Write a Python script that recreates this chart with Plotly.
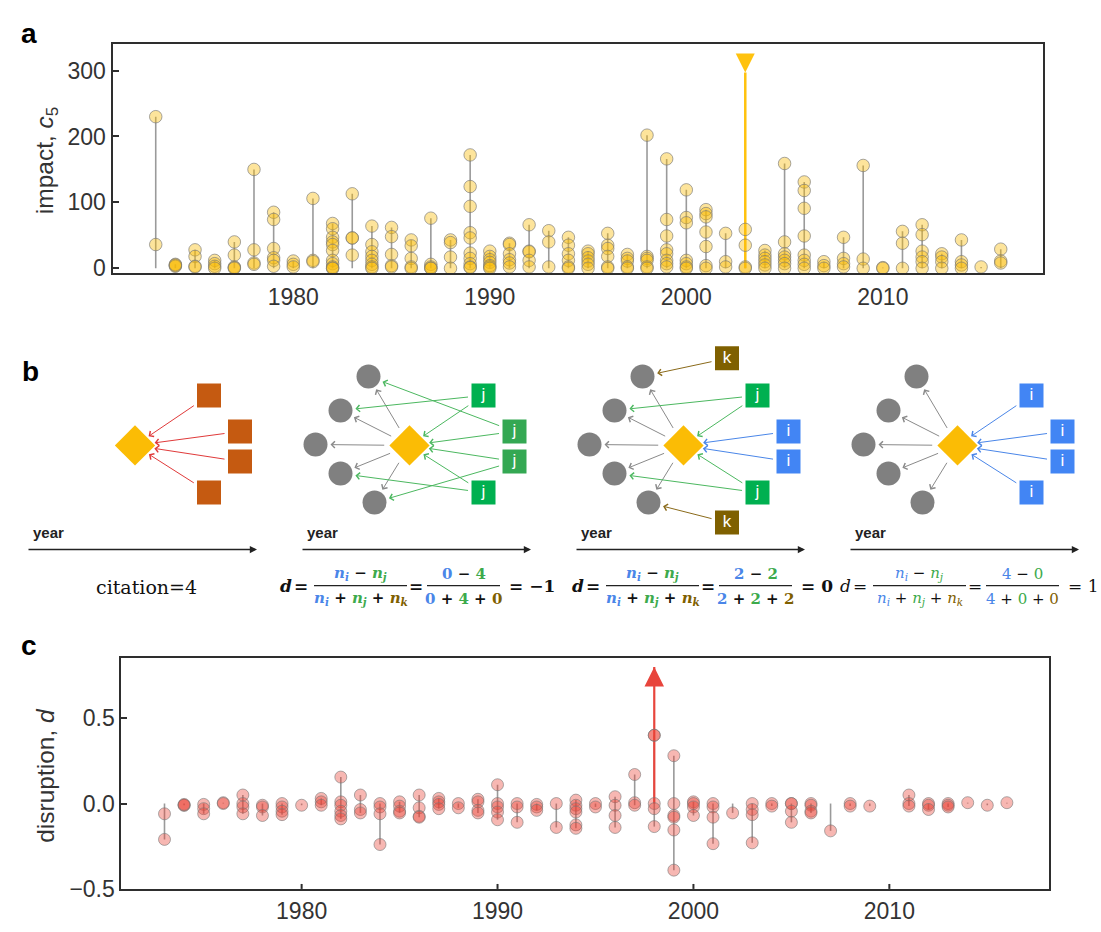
import math
import plotly.graph_objects as go

W, H = 1101, 932

# ---------------------------------------------------------------- data
years = list(range(1973, 2017))

# impact c5 of an author's papers, one list per publication year (1973 ... 2016)
impact = [
    [230, 36], [6, 4, 3, 5], [28, 18, 3, 2], [12, 7, 3, 0], [40, 20, 2, 1, 0],
    [150, 28, 8, 6], [85, 74, 30, 16, 12, 3], [11, 6, 2], [106, 12, 10],
    [68, 60, 47, 40, 36, 27, 12, 7, 2, 0, 0], [113, 46, 46, 20],
    [64, 36, 25, 18, 12, 6, 2, 0], [62, 48, 21, 4, 2], [43, 34, 15, 2, 0],
    [76, 6, 2, 0, 0], [43, 39, 17, 0], [172, 124, 94, 54, 46, 23, 15, 7, 2, 1],
    [26, 18, 13, 9, 4, 2, 0], [38, 36, 22, 13, 8, 2], [66, 26, 25, 12, 2],
    [57, 40, 2], [47, 35, 22, 12, 2, 0], [26, 22, 16, 11, 6, 0],
    [53, 35, 30, 18, 2, 0], [21, 15, 11, 2, 0], [202, 18, 15, 12, 2, 0],
    [166, 74, 49, 28, 22, 12, 7, 2], [119, 77, 69, 12, 7, 2, 0],
    [89, 83, 78, 55, 33, 4, 0], [53, 10, 2], [59, 35, 2, 0],
    [27, 20, 15, 10, 5, 0], [159, 40, 22, 17, 12, 7, 0],
    [131, 118, 91, 49, 20, 12, 6, 0], [10, 4, 0], [47, 15, 7, 2], [156, 14, 0],
    [1, 0], [56, 38, 0], [66, 51, 26, 17, 10, 0], [22, 17, 10, 0],
    [43, 10, 5, 0], [2], [29, 11, 8],
]

# disruption d of the same papers, one list per publication year
disruption = [
    [-0.06, -0.21], [-0.01, -0.01, -0.005], [-0.005, -0.03, -0.06], [0.005, 0.0],
    [0.05, 0.0, -0.02, -0.06], [-0.01, -0.02, -0.07], [0.0, -0.02, -0.045, -0.065],
    [-0.01], [0.03, 0.01, -0.01], [0.155, 0.01, -0.01, -0.045, -0.07, -0.09],
    [0.05, -0.035, -0.055], [0.0, -0.02, -0.06, -0.24], [0.01, -0.015, -0.045, -0.055],
    [0.05, -0.025, -0.075, -0.08], [0.03, 0.01, -0.005, -0.03], [0.0, -0.025],
    [0.025, 0.01, -0.04, -0.055], [0.11, 0.0, -0.02, -0.05, -0.095], [0.0, -0.02, -0.11],
    [-0.005, -0.02, -0.04], [0.0, -0.14], [0.02, -0.01, -0.03, -0.05, -0.125, -0.145],
    [0.0, -0.02], [0.04, -0.01, -0.07, -0.14], [0.17, 0.005, -0.01],
    [0.40, 0.40, 0.0, -0.03, -0.135], [0.28, 0.0, -0.07, -0.08, -0.155, -0.39],
    [0.01, 0.0, -0.02, -0.07], [0.0, -0.02, -0.08, -0.235], [-0.055],
    [0.0, -0.035, -0.065, -0.23], [0.0, -0.015], [0.0, 0.0, -0.045, -0.11],
    [0.0, -0.01, -0.045, -0.055], [-0.16], [0.0, -0.015], [-0.015], [],
    [0.05, 0.0, -0.015], [0.0, -0.01, -0.035], [0.0, -0.01, -0.02], [0.005],
    [-0.01], [0.005],
]

focal_year_a, focal_impact = 2003, 297
focal_year_c, focal_disruption = 1998, 0.80

year_ticks = [1980, 1990, 2000, 2010]
impact_ticks = [0, 100, 200, 300]
disruption_ticks = [-0.5, 0.0, 0.5]
disruption_ticktext = ["\u22120.5", "0.0", "0.5"]

# schematic counts (n_i, n_j, n_k, result) for the three disruption examples
formula_counts = [(0, 4, 0, "\u22121"), (2, 2, 2, "0"), (4, 0, 0, "1")]
citation_text = "citation=4"

# ---------------------------------------------------------------- styles
FONT = "Liberation Sans, Arial, sans-serif"
SERIF = "DejaVu Serif, serif"
AX_COL = "#2e2e2e"
TXT_COL = "#333333"
YEL = "#FBBC05"
BLUE = "#4285F4"
GREEN = "#00B050"
OLIVE = "#7F6000"
ORANGE = "#C55A11"
GREY = "#808080"
F_BLUE = "#4A86E8"
F_GREEN = "#3DAA4C"

YS = 1.0152  # vertical layout scale


def Y(py):
    return py * YS


def flatten(vals):
    xs, ys = [], []
    for yr, v in zip(years, vals):
        for val in v:
            xs.append(yr)
            ys.append(val)
    return xs, ys


def stems(vals):
    xs, ys = [], []
    for yr, v in zip(years, vals):
        if not v:
            continue
        xs += [yr, yr, None]
        ys += [min(0, min(v)), max(0, max(v)), None]
    return xs, ys


fig = go.Figure()

# ---------------------------------------------------------------- panel a
sx, sy = stems(impact)
fig.add_trace(go.Scatter(x=sx, y=sy, mode="lines", xaxis="x", yaxis="y",
                         line=dict(color="#9a9a9a", width=1.6), hoverinfo="skip"))
fig.add_trace(go.Scatter(x=[focal_year_a, focal_year_a], y=[0, focal_impact],
                         mode="lines", xaxis="x", yaxis="y",
                         line=dict(color="#FFC20E", width=2.5), hoverinfo="skip"))
px_, py_ = flatten(impact)
fig.add_trace(go.Scatter(x=px_, y=py_, mode="markers", xaxis="x", yaxis="y",
                         marker=dict(size=12.5, color="rgba(251,188,5,0.40)",
                                     line=dict(color="rgba(120,120,120,0.65)", width=1)),
                         cliponaxis=False))
fig.add_trace(go.Scatter(x=[focal_year_a], y=[focal_impact], mode="markers",
                         xaxis="x", yaxis="y",
                         marker=dict(symbol="arrow-down", size=19, color="#FFC20E",
                                     line=dict(width=0))))

# ---------------------------------------------------------------- panel c
sx, sy = stems(disruption)
fig.add_trace(go.Scatter(x=sx, y=sy, mode="lines", xaxis="x2", yaxis="y2",
                         line=dict(color="#9a9a9a", width=1.6), hoverinfo="skip"))
fig.add_trace(go.Scatter(x=[focal_year_c, focal_year_c], y=[0, focal_disruption],
                         mode="lines", xaxis="x2", yaxis="y2",
                         line=dict(color="#E8453C", width=2.2), hoverinfo="skip"))
px_, py_ = flatten(disruption)
fig.add_trace(go.Scatter(x=px_, y=py_, mode="markers", xaxis="x2", yaxis="y2",
                         marker=dict(size=12, color="rgba(234,67,53,0.38)",
                                     line=dict(color="rgba(120,120,120,0.6)", width=1)),
                         cliponaxis=False))
fig.add_trace(go.Scatter(x=[focal_year_c], y=[focal_disruption], mode="markers",
                         xaxis="x2", yaxis="y2",
                         marker=dict(symbol="arrow-up", size=19.5, color="#E8453C",
                                     line=dict(width=0))))

# ---------------------------------------------------------------- panel b (schematic)
panel_cx = [135, 409.5, 683.5, 957.5]
node_cy = 445
circle_off = [(-41, -69), (-69, -35), (-94, -1), (-69, 28), (-35, 57)]
slot_off = [(74, -50), (105, -14), (105, 16), (74, 47), (43.5, -87), (43.5, 77)]
CIRC_R, SQ_H, DIA_H = 12, 12, 20

subpanels = [
    dict(circles=False, slots={0: ("", ORANGE, "#E03A3A", ["D"]),
                               1: ("", ORANGE, "#E03A3A", ["D"]),
                               2: ("", ORANGE, "#E03A3A", ["D"]),
                               3: ("", ORANGE, "#E03A3A", ["D"])}),
    dict(circles=True, slots={0: ("j", GREEN, "#4CB860", ["D", 1]),
                              1: ("j", "#34A853", "#4CB860", ["D", 0]),
                              2: ("j", "#34A853", "#4CB860", ["D", 4]),
                              3: ("j", GREEN, "#4CB860", ["D", 3])}),
    dict(circles=True, slots={0: ("j", GREEN, "#4CB860", ["D", 1]),
                              1: ("i", BLUE, "#4A86E8", ["D"]),
                              2: ("i", BLUE, "#4A86E8", ["D"]),
                              3: ("j", GREEN, "#4CB860", ["D", 3]),
                              4: ("k", OLIVE, "#8A6A1A", [0]),
                              5: ("k", OLIVE, "#8A6A1A", [4])}),
    dict(circles=True, slots={0: ("i", BLUE, "#4A86E8", ["D"]),
                              1: ("i", BLUE, "#4A86E8", ["D"]),
                              2: ("i", BLUE, "#4A86E8", ["D"]),
                              3: ("i", BLUE, "#4A86E8", ["D"])}),
]


def radius(kind, ux, uy):
    ax_, ay_ = abs(ux), abs(uy)
    if kind == "circle":
        return CIRC_R
    if kind == "square":
        return SQ_H / max(ax_, ay_)
    return DIA_H / (ax_ + ay_)


annotations = []
shapes = []


def arrow(p0, k0, p1, k1, color, g0=2, g1=3, width=1.0):
    dx, dy = p1[0] - p0[0], p1[1] - p0[1]
    L = math.hypot(dx, dy)
    ux, uy = dx / L, dy / L
    r0 = radius(k0, ux, uy) + g0
    r1 = radius(k1, ux, uy) + g1
    annotations.append(dict(
        x=p1[0] - ux * r1, y=p1[1] - uy * r1,
        ax=p0[0] + ux * r0, ay=p0[1] + uy * r0,
        xref="x3", yref="y3", axref="x3", ayref="y3",
        text="", showarrow=True, arrowhead=4, arrowsize=1.3,
        arrowwidth=width, arrowcolor=color))


circ_x, circ_y = [], []
sq_x, sq_y, sq_c, sq_t = [], [], [], []
dia_x, dia_y = [], []
for cx, sp in zip(panel_cx, subpanels):
    D = (cx, node_cy)
    dia_x.append(cx)
    dia_y.append(node_cy)
    circles = [(cx + ox, node_cy + oy) for ox, oy in circle_off]
    if sp["circles"]:
        for c in circles:
            circ_x.append(c[0])
            circ_y.append(c[1])
            arrow(D, "diamond", c, "circle", "#8a8a8a", g0=4, g1=3)
    for s, (lab, colr, acol, targets) in sp["slots"].items():
        S = (cx + slot_off[s][0], node_cy + slot_off[s][1])
        sq_x.append(S[0]); sq_y.append(S[1]); sq_c.append(colr); sq_t.append(lab)
        for t in targets:
            if t == "D":
                arrow(S, "square", D, "diamond", acol, g0=2, g1=2)
            else:
                arrow(S, "square", circles[t], "circle", acol, g0=2, g1=3)

fig.add_trace(go.Scatter(x=circ_x, y=circ_y, mode="markers", xaxis="x3", yaxis="y3",
                         marker=dict(symbol="circle", size=24, color=GREY), hoverinfo="skip"))
fig.add_trace(go.Scatter(x=dia_x, y=dia_y, mode="markers", xaxis="x3", yaxis="y3",
                         marker=dict(symbol="diamond", size=31, color=YEL), hoverinfo="skip"))
fig.add_trace(go.Scatter(x=sq_x, y=sq_y, mode="markers+text", xaxis="x3", yaxis="y3",
                         text=sq_t, textposition="middle center",
                         textfont=dict(family=FONT, size=17, color="white"),
                         marker=dict(symbol="square", size=24, color=sq_c), hoverinfo="skip"))

axis_starts = [27, 301, 575, 849]
AX_LEN, AX_Y = 230, 549
for x0 in axis_starts:
    annotations.append(dict(x=x0 + AX_LEN, y=AX_Y, ax=x0, ay=AX_Y,
                            xref="x3", yref="y3", axref="x3", ayref="y3",
                            text="", showarrow=True, arrowhead=2, arrowsize=0.9,
                            arrowwidth=1.6, arrowcolor="#222"))
    annotations.append(dict(x=x0 + 4, y=532, xref="x3", yref="y3", text="<b>year</b>",
                            showarrow=False, xanchor="left", yanchor="middle",
                            font=dict(family=FONT, size=15, color="#222")))

annotations.append(dict(x=146, y=586, xref="x3", yref="y3", text=citation_text,
                        showarrow=False, xanchor="center", yanchor="middle",
                        font=dict(family=SERIF, size=19, color="#111")))


def col(t, c):
    return f"<span style='color:{c}'>{t}</span>"


def nv(sub, c):
    return col(f"<i>n</i><sub><i>{sub}</i></sub>", c)


formula_x0 = [286, 578, 845]
formula_bold = [True, True, False]
MI = "\u2212"
for x0, (ni, nj, nk, res), bold in zip(formula_x0, formula_counts, formula_bold):
    B = (lambda t: f"<b>{t}</b>") if bold else (lambda t: t)
    f17 = dict(family=SERIF, size=17, color="#111")
    ffr = dict(family=SERIF, size=15, color="#111")
    parts = [
        (x0, 585, "center", B("<i>d</i>"), f17),
        (x0 + 15, 585, "center", B("="), f17),
        (x0 + 74.5, 573, "center", B(f"{nv('i', F_BLUE)} {MI} {nv('j', F_GREEN)}"), ffr),
        (x0 + 74.5, 598, "center", B(f"{nv('i', F_BLUE)} + {nv('j', F_GREEN)} + {nv('k', OLIVE)}"), ffr),
        (x0 + 130, 585, "center", B("="), f17),
        (x0 + 177.5, 573, "center", B(f"{col(ni, F_BLUE)} {MI} {col(nj, F_GREEN)}"), ffr),
        (x0 + 177.5, 598, "center", B(f"{col(ni, F_BLUE)} + {col(nj, F_GREEN)} + {col(nk, OLIVE)}"), ffr),
        (x0 + 221, 585, "left", B(f"= {res}"), f17),
    ]
    for xx, yy, anc, txt, fnt in parts:
        annotations.append(dict(x=xx, y=yy, xref="x3", yref="y3", text=txt,
                                showarrow=False, xanchor=anc, yanchor="middle", font=fnt))
    for b0, b1 in [(x0 + 28, x0 + 121), (x0 + 141, x0 + 214)]:
        shapes.append(dict(type="line", xref="x3", yref="y3", x0=b0, x1=b1, y0=585, y1=585,
                           line=dict(color="#222", width=1.2)))


# ---------------------------------------------------------------- labels
def pp(px, py):
    return px / W, 1 - Y(py) / H


for letter, (lx, ly) in zip(["a", "b", "c"], [(29, 33), (30, 371), (29, 645)]):
    x_, y_ = pp(lx, ly)
    annotations.append(dict(x=x_, y=y_, xref="paper", yref="paper", text=f"<b>{letter}</b>",
                            showarrow=False, xanchor="center", yanchor="middle",
                            font=dict(family=FONT, size=28, color="#000")))

x_, y_ = pp(46, 160)
annotations.append(dict(x=x_, y=y_, xref="paper", yref="paper",
                        text="impact, <i>c</i><sub>5</sub>", textangle=-90,
                        showarrow=False, xanchor="center", yanchor="middle",
                        font=dict(family=FONT, size=24.5, color=TXT_COL)))
x_, y_ = pp(46, 775)
annotations.append(dict(x=x_, y=y_, xref="paper", yref="paper",
                        text="disruption, <i>d</i>", textangle=-90,
                        showarrow=False, xanchor="center", yanchor="middle",
                        font=dict(family=FONT, size=24.5, color=TXT_COL)))

# inside x ticks of panel c
for tv in year_ticks:
    shapes.append(dict(type="line", xref="x2", yref="y2 domain", x0=tv, x1=tv,
                       y0=0, y1=5 / 232, line=dict(color=AX_COL, width=2)))

# ---------------------------------------------------------------- axes
common = dict(showline=True, linecolor=AX_COL, linewidth=2, mirror=True,
              showgrid=False, zeroline=False,
              tickfont=dict(family=FONT, size=23, color=TXT_COL))
XR = [1970.8, 2018.15]

fig.update_layout(
    width=W, height=H, autosize=False,
    margin=dict(l=0, r=0, t=0, b=0),
    paper_bgcolor="white", plot_bgcolor="white",
    showlegend=False,
    xaxis=dict(domain=[112.5 / W, 1043 / W], range=XR, anchor="y",
               tickvals=year_ticks, ticks="", ticklabelstandoff=2, **common),
    yaxis=dict(domain=[1 - Y(273) / H, 1 - Y(43.5) / H], range=[-7.6, 341], anchor="x",
               tickvals=impact_ticks, ticks="inside", ticklen=6, tickwidth=2,
               tickcolor=AX_COL, **common),
    xaxis2=dict(domain=[121.4 / W, 1049 / W], range=XR, anchor="y2",
                tickvals=year_ticks, ticks="", **common),
    yaxis2=dict(domain=[1 - Y(888) / H, 1 - Y(657.7) / H], range=[-0.5, 0.85], anchor="x2",
                tickvals=disruption_ticks, ticktext=disruption_ticktext,
                ticks="inside", ticklen=6, tickwidth=2, tickcolor=AX_COL, **common),
    xaxis3=dict(domain=[0, 1], range=[0, W], anchor="y3", visible=False, fixedrange=True),
    yaxis3=dict(domain=[1 - Y(620) / H, 1 - Y(320) / H], range=[620, 320], anchor="x3",
                visible=False, fixedrange=True),
    annotations=annotations,
    shapes=shapes,
)

fig.write_html("out.html", config={"displayModeBar": False},
               post_script="document.body.style.margin='0';")
